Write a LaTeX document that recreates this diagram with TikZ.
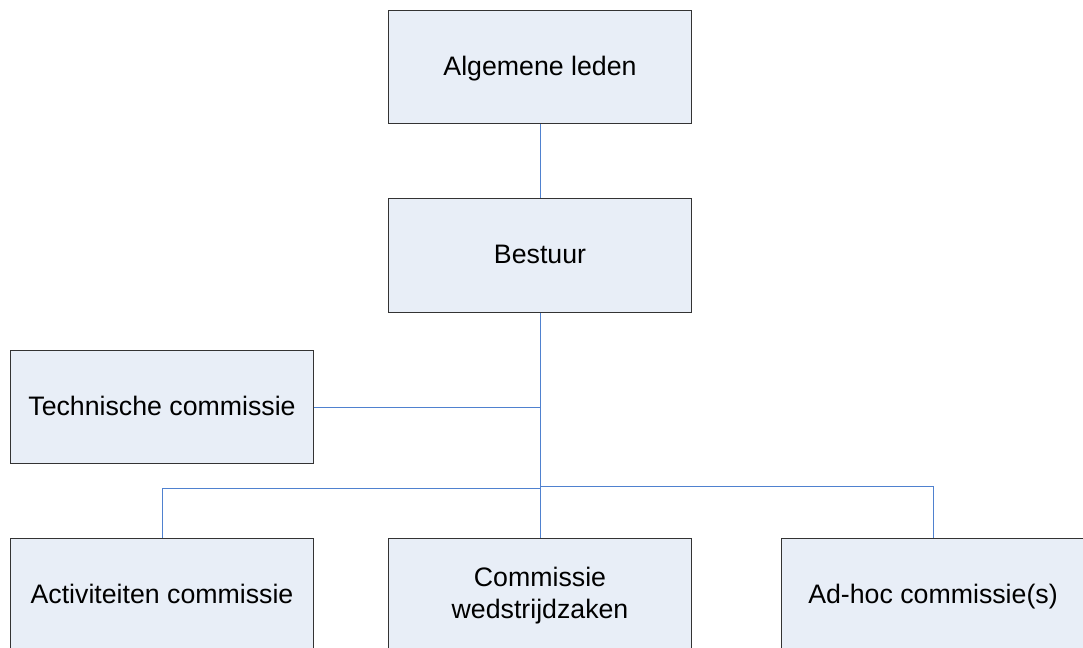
\documentclass[tikz,border=0pt]{standalone}
\usepackage{fontspec}
\setmainfont{Liberation Sans}

\definecolor{boxfill}{RGB}{232,238,247}
\definecolor{linkblue}{RGB}{79,129,207}

\tikzset{
    orgbox/.style={draw=black!80, line width=0.7pt, fill=boxfill,
        minimum width=7.55cm, minimum height=2.825cm, align=center,
        font=\fontsize{19}{23}\selectfont},
    oneline/.style={text height=13.5pt, text depth=2pt},
    link/.style={draw=linkblue, line width=0.7pt}
}

\begin{document}
\begin{tikzpicture}[x=0.025cm, y=-0.025cm]
    \clip (0,0) rectangle (1083,648);
    \useasboundingbox (0,0) rectangle (1083,648);

    % Boxes
    \node[orgbox, oneline] (leden) at (540,67) {Algemene leden};
    \node[orgbox, oneline] (bestuur) at (540,255.5) {Bestuur};
    \node[orgbox, oneline] (techniek) at (162,407) {Technische commissie};
    \node[orgbox, oneline] (activiteit) at (162,595.5) {Activiteiten commissie};
    \node[orgbox] (wedstrijd) at (540,595.5) {Commissie\\wedstrijdzaken};
    \node[orgbox, oneline] (adhoc) at (933,595.5) {Ad-hoc commissie(s)};

    % Branch points
    \coordinate (splitL) at (540,488);
    \coordinate (splitR) at (540,486);

    % Connectors
    \draw[link] (leden) -- (bestuur);
    \draw[link] (bestuur) -- (wedstrijd);
    \draw[link] (techniek.east) -- (techniek.east -| bestuur.south);
    \draw[link] (splitL) -| (activiteit.north);
    \draw[link] (splitR) -| (adhoc.north);
\end{tikzpicture}
\end{document}
